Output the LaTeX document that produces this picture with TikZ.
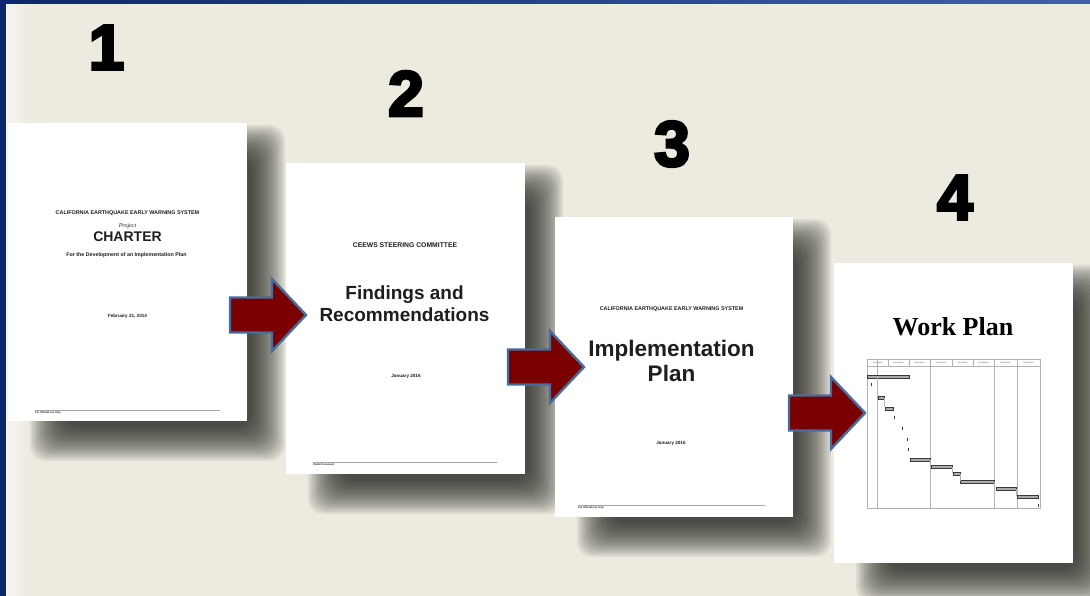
\documentclass[tikz,border=0pt]{standalone}
\usepackage{fontspec}
\setmainfont{Liberation Sans}
\newfontfamily\numfont[FakeBold=4.5]{Liberation Sans Bold}
\newfontfamily\seriffont{Liberation Serif}
\definecolor{bgcol}{RGB}{237,234,223}
\definecolor{navyL}{RGB}{10,40,105}
\definecolor{navyR}{RGB}{66,96,170}
\definecolor{shadowcol}{RGB}{30,30,24}
\definecolor{arrowred}{RGB}{122,0,0}
\definecolor{arrowrim}{RGB}{72,108,158}
\definecolor{inkcol}{RGB}{30,30,30}

\tikzset{
  page/.style={fill=white, draw=none, inner sep=0pt, outer sep=0pt, anchor=north west},
  txt/.style={inner sep=0pt, text=inkcol, align=center},
  bignum/.style={inner sep=0pt, text=black, font=\numfont\fontsize{64}{64}\selectfont},
  rule/.style={draw=gray!70, line width=0.5pt},
  foot/.style={inner sep=0pt, anchor=north west, text=inkcol, font=\bfseries\fontsize{2.6}{3}\selectfont},
  gframe/.style={draw=gray!60, line width=0.4pt},
  gbar/.style={fill=gray!65, draw=gray!45!black, line width=0.3pt},
  glabel/.style={inner sep=0pt, text=gray!60!black, font=\fontsize{2}{2.4}\selectfont},
  pics/redarrow/.style={code={
    \draw[fill=arrowred, draw=arrowrim, line width=2.4pt, line join=miter]
      (-76,-17.5) -- (-34,-17.5) -- (-34,-36) -- (0,0) -- (-34,36)
      -- (-34,17.5) -- (-76,17.5) -- cycle;}}
}

% soft drop shadow behind a page given by its corners
\newcommand\dropshadow[4]{%
  \foreach \k in {0,...,17}{%
    \fill[shadowcol, fill opacity=0.075, rounded corners=16pt]
      (#1+22+2*\k, #2+2+2*\k) rectangle (#3+38-2*\k, #4+40-2*\k);}}

\begin{document}
\begin{tikzpicture}[x=1pt,y=-1pt]
\useasboundingbox (0,0) rectangle (1090,596);
% backdrop and frame
\fill[bgcol] (0,0) rectangle (1090,596);
\shade[left color=white, right color=bgcol, opacity=0.5] (6,4) rectangle (30,596);
\shade[left color=navyL, right color=navyR] (0,0) rectangle (1090,4);
\fill[navyL] (0,0) rectangle (6,596);

% step numbers
\node[bignum] (n1) at (106.5,47.5) {1};
\node[bignum] (n2) at (406,93.5) {2};
\node[bignum] (n3) at (672,144) {3};
\node[bignum] (n4) at (955,197.5) {4};

% ---- document 1: charter
\dropshadow{8}{123}{247}{421}
\node[page, minimum width=239pt, minimum height=298pt] (p1) at (8,123) {};
\node[txt, font=\bfseries\fontsize{5.4}{6}\selectfont] (p1a) at (127.5,213) {CALIFORNIA EARTHQUAKE EARLY WARNING SYSTEM};
\node[txt, font=\seriffont\itshape\fontsize{6}{7}\selectfont] (p1b) at (127.5,226) {Project};
\node[txt, font=\bfseries\fontsize{14}{16}\selectfont] (p1c) at (127.5,237) {CHARTER};
\node[txt, font=\bfseries\fontsize{5.3}{6}\selectfont] (p1d) at (126.5,255) {For the Development of an Implementation Plan};
\node[txt, font=\bfseries\fontsize{4.6}{5}\selectfont] (p1e) at (127.5,316) {February 21, 2014};
\draw[rule] (35,410) -- (220,410);
\node[foot] (p1f) at (35,411.5) {For Official Use Only};

% ---- document 2: findings
\dropshadow{286}{163}{525}{474}
\node[page, minimum width=239pt, minimum height=311pt] (p2) at (286,163) {};
\node[txt, font=\bfseries\fontsize{6.8}{8}\selectfont] (p2a) at (405,245) {CEEWS STEERING COMMITTEE};
\node[txt, font=\bfseries\fontsize{19}{21.5}\selectfont] (p2b) at (404.5,303.5) {Findings and\\Recommendations};
\node[txt, font=\bfseries\fontsize{4.6}{5}\selectfont] (p2c) at (406,376) {January 2016};
\draw[rule] (313,462) -- (497,462);
\node[foot] (p2d) at (313,463.5) {Public Document};

% ---- document 3: implementation plan
\dropshadow{555}{217}{793}{517}
\node[page, minimum width=238pt, minimum height=300pt] (p3) at (555,217) {};
\node[txt, font=\bfseries\fontsize{5.4}{6}\selectfont] (p3a) at (671.5,309) {CALIFORNIA EARTHQUAKE EARLY WARNING SYSTEM};
\node[txt, font=\bfseries\fontsize{22.5}{25}\selectfont] (p3b) at (671.5,361) {Implementation\\Plan};
\node[txt, font=\bfseries\fontsize{4.6}{5}\selectfont] (p3c) at (671,443) {January 2016};
\draw[rule] (578,505) -- (765,505);
\node[foot] (p3d) at (578,506.5) {For Official Use Only};

% ---- document 4: work plan with schedule chart
\dropshadow{834}{263}{1073}{563}
\node[page, minimum width=239pt, minimum height=300pt] (p4) at (834,263) {};
\node[txt, text=black, font=\seriffont\bfseries\fontsize{26}{28}\selectfont] (p4a) at (953,327) {Work Plan};
% chart frame, header row and column rules
\draw[gframe] (867,359) rectangle (1040,508);
\draw[gframe] (867,366) -- (1040,366);
\foreach \xb in {888,909,930,952,973,994,1017}{
  \draw[gframe] (\xb,359) -- (\xb,366);
}
\foreach \xa/\xb/\lab in {867/888/1st Quarter,888/909/2nd Quarter,909/930/3rd Quarter,930/952/4th Quarter,952/973/1st Quarter,973/994/2nd Quarter,994/1017/3rd Quarter,1017/1040/4th Quarter}{
  \node[glabel] at ({(\xa+\xb)/2},362.5) {\lab};
}
\foreach \xv in {877,930,994,1017}{ \draw[gframe] (\xv,359) -- (\xv,508); }
% task bars
\foreach \xa/\xb/\yv in {867/909/377,878/884/398,885/893/409,910/930/460,931/952/467,953/960/474,960/994/482,996/1016/489,1017/1038/497}{
  \draw[gbar] (\xa,\yv-1.5) rectangle (\xb,\yv+1.5);
}
% milestones
\foreach \xv/\yv in {871/384,894/417,902/428,907/439,908/449,1038/505}{
  \draw[gray!45!black, line width=0.6pt] (\xv,\yv-1.5) -- (\xv,\yv+1.5);
}
% links between consecutive tasks
\draw[gray!60, line width=0.3pt] (877,377) -- (877,396) (884,398) -- (884,407) (930,460) -- (930,465.5) (952,467) -- (952,472.5) (960,474) -- (960,480.5) (994,482) -- (994,487.5) (1016,489) -- (1016,495.5);

% ---- flow arrows between documents
\pic at (306,315) {redarrow};
\pic at (584,367) {redarrow};
\pic at (865,413) {redarrow};
\end{tikzpicture}
\end{document}
